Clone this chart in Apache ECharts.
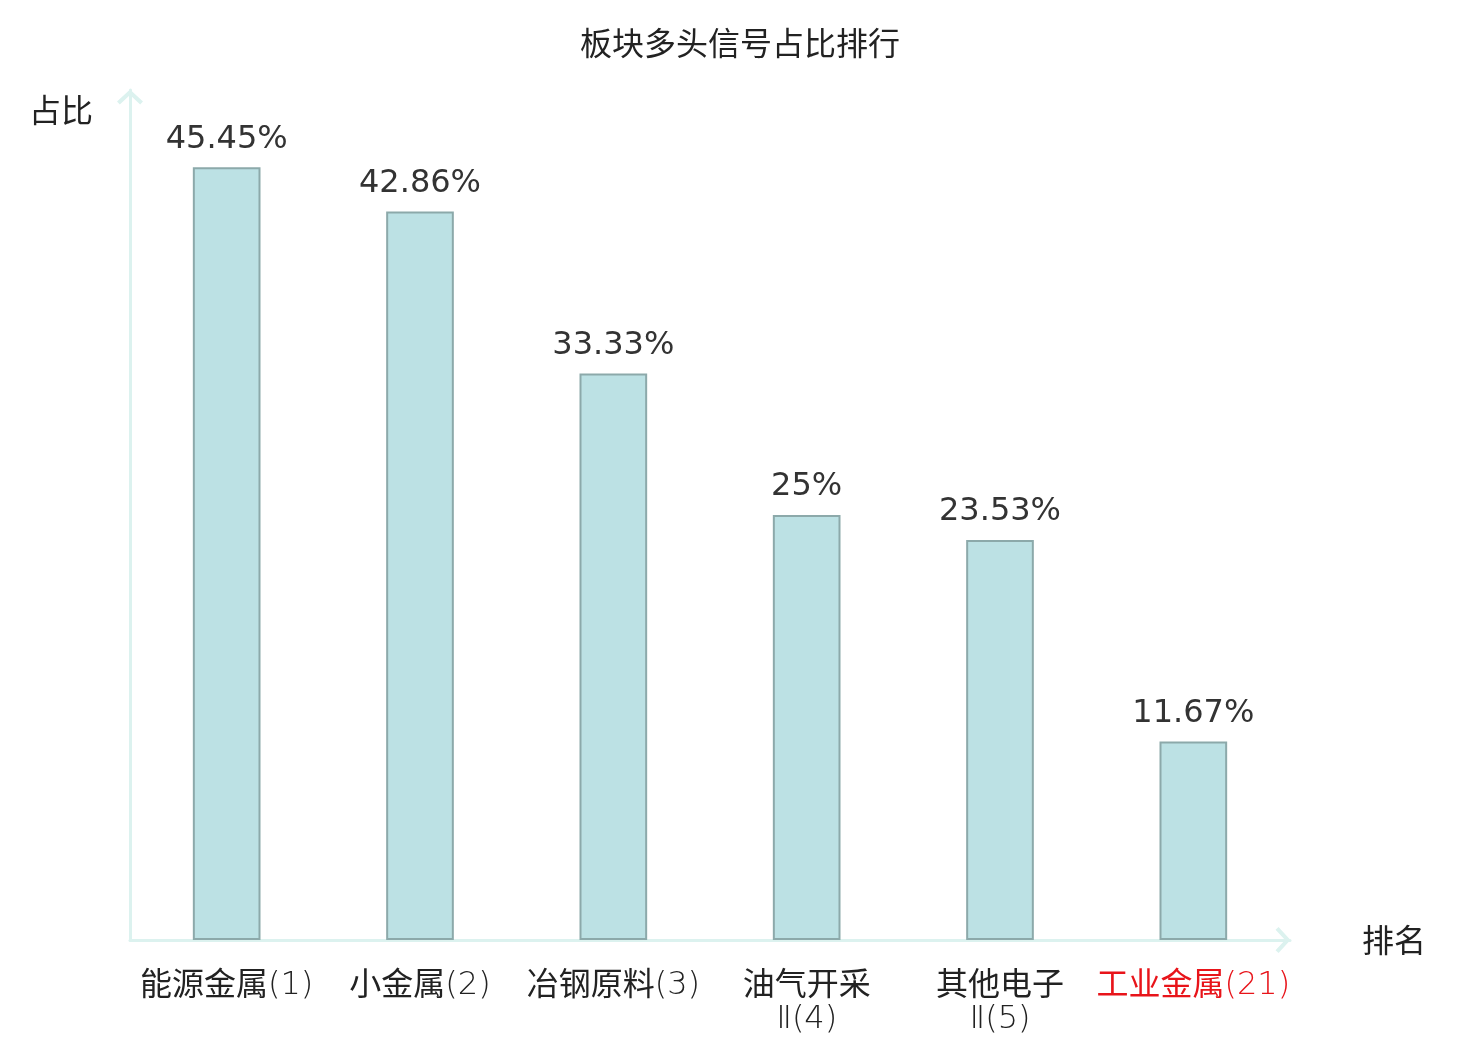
<!DOCTYPE html>
<html>
<head>
<meta charset="utf-8">
<script src="https://cdn.jsdelivr.net/npm/echarts@6/dist/echarts.min.js"></script>
<style>html,body{margin:0;padding:0;background:#fff;}#c{width:1480px;height:1040px;}</style>
</head>
<body>
<div id="c"></div>
<script>
const sectors = ['能源金属', '小金属', '冶钢原料', '油气开采', '其他电子', '工业金属'];
const suffixes = ['', '', '', 'Ⅱ', 'Ⅱ', ''];
const ranks = [1, 2, 3, 4, 5, 21];
const shares = [45.45, 42.86, 33.33, 25, 23.53, 11.67];
const categories = sectors.map((s, i) => s + suffixes[i] + '(' + ranks[i] + ')');

const axisColor = '#dcf2ef';
const chevron = 'path://M12,0 L24,11 L21.4,13.8 L12,5 L2.6,13.8 L0,11 Z';
const cjkFont = 'Noto Sans CJK SC';
const latinFont = '"DejaVu Sans", "Noto Sans CJK SC", sans-serif';

const chart = echarts.init(document.getElementById('c'));
chart.setOption({
  backgroundColor: '#fff',
  title: {
    text: '板块多头信号占比排行',
    left: 'center',
    top: 22,
    textStyle: { fontSize: 32, fontWeight: 'normal', color: '#222', fontFamily: cjkFont }
  },
  grid: { left: 130, right: 190, top: 90, bottom: 100, containLabel: false },
  xAxis: {
    type: 'category',
    data: categories,
    name: '排名',
    nameLocation: 'end',
    nameGap: 72,
    nameTextStyle: { fontSize: 32, color: '#222', fontFamily: cjkFont, verticalAlign: 'middle' },
    axisLine: {
      show: true,
      lineStyle: { color: axisColor, width: 3 },
      symbol: ['none', chevron],
      symbolSize: [26, 15],
      symbolOffset: [0, -7]
    },
    axisTick: { show: false },
    axisLabel: {
      interval: 0,
      margin: 26,
      fontSize: 32,
      lineHeight: 34,
      color: '#222',
      formatter: function (value) {
        const i = categories.indexOf(value);
        const red = ranks[i] > 5;
        const c = red ? 'rc' : 'c';
        const l = red ? 'rl' : 'l';
        const tail = suffixes[i] + '(' + ranks[i] + ')';
        if (suffixes[i]) {
          return '{' + c + '|' + sectors[i] + '}\n{' + l + '|' + tail + '}';
        }
        return '{' + c + '|' + sectors[i] + '}{' + l + '|' + tail + '}';
      },
      rich: {
        c: { color: '#222', fontSize: 32, fontFamily: cjkFont, lineHeight: 34 },
        l: { color: '#222', fontSize: 32, fontWeight: 200, fontFamily: latinFont, lineHeight: 34, padding: [6, 0, 0, 0] },
        rc: { color: '#e8141a', fontSize: 32, fontFamily: cjkFont, lineHeight: 34 },
        rl: { color: '#e8141a', fontSize: 32, fontWeight: 200, fontFamily: latinFont, lineHeight: 34, padding: [6, 0, 0, 0] }
      }
    }
  },
  yAxis: {
    type: 'value',
    min: 0,
    max: 50,
    name: '占比',
    nameLocation: 'end',
    nameGap: -20,
    nameTextStyle: { fontSize: 32, color: '#222', fontFamily: cjkFont, align: 'right', verticalAlign: 'middle', padding: [0, 37, 0, 0] },
    axisLine: {
      show: true,
      lineStyle: { color: axisColor, width: 3 },
      symbol: ['none', chevron],
      symbolSize: [26, 15],
      symbolOffset: [0, -7]
    },
    axisTick: { show: false },
    axisLabel: { show: false },
    splitLine: { show: false }
  },
  series: [{
    type: 'bar',
    data: shares,
    barWidth: '35%',
    itemStyle: { color: '#bce1e4', borderColor: '#8ca9aa', borderWidth: 2 },
    label: {
      show: true,
      position: 'top',
      distance: 12,
      fontSize: 32,
      color: '#333',
      fontFamily: 'DejaVu Sans',
      formatter: function (p) { return p.value + '%'; }
    }
  }],
  animation: false
});
</script>
</body>
</html>
